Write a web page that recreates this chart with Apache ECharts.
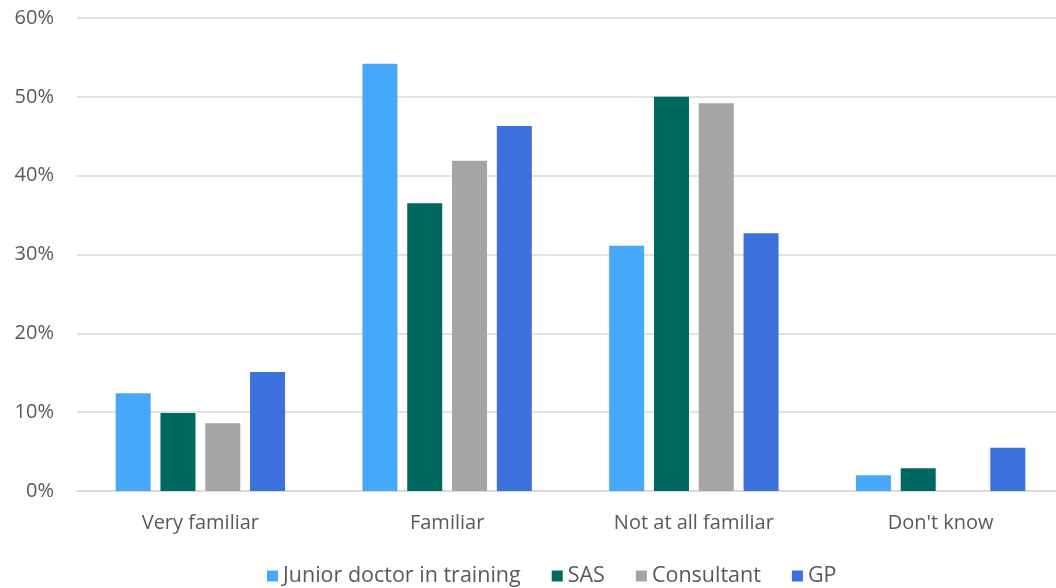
<!DOCTYPE html>
<html><head><meta charset="utf-8">
<script src="https://cdn.jsdelivr.net/npm/echarts@6/dist/echarts.min.js"></script>
<style>html,body{margin:0;padding:0;background:#fff}#c{width:1056px;height:588px}</style>
</head><body><div id="c"></div>
<script>
const categories = ["Very familiar", "Familiar", "Not at all familiar", "Don't know"];
const seriesNames = ["Junior doctor in training", "SAS", "Consultant", "GP"];
const junior = [12.4, 54.2, 31.1, 2.0];
const sas = [9.9, 36.5, 50.0, 2.9];
const consultant = [8.6, 41.9, 49.2, 0];
const gp = [15.1, 46.3, 32.7, 5.5];
const yTicks = [0, 10, 20, 30, 40, 50, 60];
const colors = ["#46A8F8", "#00695F", "#A5A5A5", "#3C70DD"];
const values = [junior, sas, consultant, gp];
const font = "'Open Sans', sans-serif";
const chart = echarts.init(document.getElementById('c'));
chart.setOption({
  animation: false,
  grid: {left: 77, right: -8, top: 18, bottom: 97, outerBoundsMode: 'none', containLabel: false},
  legend: {
    bottom: -4, left: 262, itemWidth: 11, itemHeight: 11, itemGap: 31,
    icon: 'rect',
    textStyle: {fontFamily: font, fontSize: 21.5, color: '#595959'},
    data: seriesNames
  },
  xAxis: {
    type: 'category', data: categories,
    axisLine: {lineStyle: {color: '#D9D9D9', width: 1.5}},
    axisTick: {show: false},
    axisLabel: {fontFamily: font, fontSize: 20, color: '#595959', margin: 22}
  },
  yAxis: {
    type: 'value', min: yTicks[0], max: yTicks[yTicks.length - 1], interval: 10,
    axisLine: {show: false}, axisTick: {show: false},
    splitLine: {lineStyle: {color: '#D9D9D9', width: 1.5}},
    axisLabel: {fontFamily: font, fontSize: 20, color: '#595959', margin: 23, formatter: v => v + '%'}
  },
  series: seriesNames.map((n, i) => ({
    name: n, type: 'bar', data: values[i],
    barWidth: 35, barGap: '28%',
    itemStyle: {color: colors[i]}
  }))
});
</script></body></html>
